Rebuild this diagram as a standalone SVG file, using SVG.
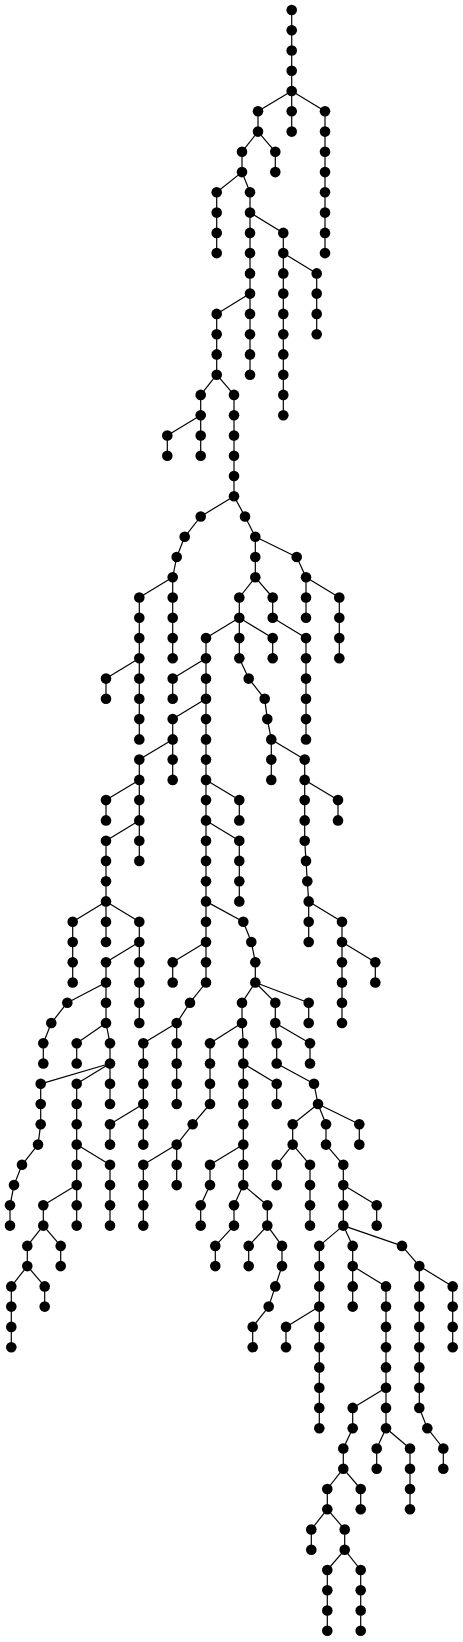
<svg xmlns="http://www.w3.org/2000/svg" width="463" height="1642" viewBox="0 0 463 1642">
<style>
.e line{stroke:#000;stroke-width:1.2}
.n circle{fill:#000}
</style>
<rect width="463" height="1642" fill="#fff"/>
<g id="edges" class="e">
<line x1="291.7" y1="10" x2="291.7" y2="30.3"/><line x1="291.7" y1="30.3" x2="291.7" y2="50.5"/><line x1="291.7" y1="50.5" x2="291.7" y2="70.8"/><line x1="291.7" y1="70.8" x2="291.7" y2="91"/>
<line x1="291.7" y1="91" x2="258" y2="111.3"/><line x1="291.7" y1="91" x2="291.7" y2="111.3"/><line x1="291.7" y1="91" x2="325" y2="111.3"/>
<line x1="258" y1="111.3" x2="258" y2="131.6"/><line x1="291.7" y1="111.3" x2="291.7" y2="131.6"/><line x1="325" y1="111.3" x2="325" y2="131.6"/>
<line x1="258" y1="131.6" x2="242" y2="151.8"/><line x1="258" y1="131.6" x2="275.3" y2="151.8"/><line x1="325" y1="131.6" x2="325" y2="151.8"/>
<line x1="242" y1="151.8" x2="242" y2="172.1"/><line x1="275.3" y1="151.8" x2="275.3" y2="172.1"/><line x1="325" y1="151.8" x2="325" y2="172.1"/>
<line x1="242" y1="172.1" x2="216.7" y2="192.3"/><line x1="242" y1="172.1" x2="250" y2="192.3"/><line x1="325" y1="172.1" x2="325" y2="192.3"/>
<line x1="216.7" y1="192.3" x2="216.7" y2="212.6"/><line x1="250" y1="192.3" x2="250" y2="212.6"/><line x1="325" y1="192.3" x2="325" y2="212.6"/>
<line x1="216.7" y1="212.6" x2="216.7" y2="232.9"/><line x1="250" y1="212.6" x2="250" y2="232.9"/><line x1="250" y1="212.6" x2="283.3" y2="232.9"/><line x1="325" y1="212.6" x2="325" y2="232.9"/>
<line x1="216.7" y1="232.9" x2="216.7" y2="253.1"/><line x1="250" y1="232.9" x2="250" y2="253.1"/><line x1="283.3" y1="232.9" x2="283.3" y2="253.1"/><line x1="325" y1="232.9" x2="325" y2="253.1"/>
<line x1="250" y1="253.1" x2="250" y2="273.4"/><line x1="283.3" y1="253.1" x2="283.3" y2="273.4"/><line x1="283.3" y1="253.1" x2="316.7" y2="273.4"/>
<line x1="250" y1="273.4" x2="250" y2="293.6"/><line x1="283.3" y1="273.4" x2="283.3" y2="293.6"/><line x1="316.7" y1="273.4" x2="316.7" y2="293.6"/>
<line x1="250" y1="293.6" x2="216.7" y2="313.9"/><line x1="250" y1="293.6" x2="250" y2="313.9"/><line x1="283.3" y1="293.6" x2="283.3" y2="313.9"/><line x1="316.7" y1="293.6" x2="316.7" y2="313.9"/>
<line x1="216.7" y1="313.9" x2="216.7" y2="334.2"/><line x1="250" y1="313.9" x2="250" y2="334.2"/><line x1="283.3" y1="313.9" x2="283.3" y2="334.2"/><line x1="316.7" y1="313.9" x2="316.7" y2="334.2"/>
<line x1="216.7" y1="334.2" x2="216.7" y2="354.4"/><line x1="250" y1="334.2" x2="250" y2="354.4"/><line x1="283.3" y1="334.2" x2="283.3" y2="354.4"/>
<line x1="216.7" y1="354.4" x2="216.7" y2="374.7"/><line x1="250" y1="354.4" x2="250" y2="374.7"/><line x1="283.3" y1="354.4" x2="283.3" y2="374.7"/>
<line x1="216.7" y1="374.7" x2="200.7" y2="394.9"/><line x1="216.7" y1="374.7" x2="234" y2="394.9"/><line x1="283.3" y1="374.7" x2="283.3" y2="394.9"/>
<line x1="200.7" y1="394.9" x2="200.7" y2="415.2"/><line x1="234" y1="394.9" x2="234" y2="415.2"/><line x1="283.3" y1="394.9" x2="283.3" y2="415.2"/>
<line x1="200.7" y1="415.2" x2="167.3" y2="435.5"/><line x1="200.7" y1="415.2" x2="200.7" y2="435.5"/><line x1="234" y1="415.2" x2="234" y2="435.5"/>
<line x1="167.3" y1="435.5" x2="167.3" y2="455.7"/><line x1="200.7" y1="435.5" x2="200.7" y2="455.7"/><line x1="234" y1="435.5" x2="234" y2="455.7"/>
<line x1="234" y1="455.7" x2="234" y2="476"/><line x1="234" y1="476" x2="234" y2="496.2"/>
<line x1="234" y1="496.2" x2="200.7" y2="516.5"/><line x1="234" y1="496.2" x2="245" y2="516.5"/>
<line x1="200.7" y1="516.5" x2="184.7" y2="536.8"/><line x1="245" y1="516.5" x2="255.3" y2="536.8"/>
<line x1="184.7" y1="536.8" x2="176.7" y2="557"/><line x1="255.3" y1="536.8" x2="255.3" y2="557"/><line x1="255.3" y1="536.8" x2="296.7" y2="557"/>
<line x1="176.7" y1="557" x2="172.7" y2="577.3"/><line x1="255.3" y1="557" x2="255.3" y2="577.3"/><line x1="296.7" y1="557" x2="306" y2="577.3"/>
<line x1="172.7" y1="577.3" x2="139.3" y2="597.5"/><line x1="172.7" y1="577.3" x2="172.7" y2="597.5"/><line x1="255.3" y1="577.3" x2="239.3" y2="597.5"/><line x1="255.3" y1="577.3" x2="272.7" y2="597.5"/><line x1="306" y1="577.3" x2="306" y2="597.5"/><line x1="306" y1="577.3" x2="339.3" y2="597.5"/>
<line x1="139.3" y1="597.5" x2="139.3" y2="617.8"/><line x1="172.7" y1="597.5" x2="172.7" y2="617.8"/><line x1="239.3" y1="597.5" x2="239.3" y2="617.8"/><line x1="272.7" y1="597.5" x2="272.7" y2="617.8"/><line x1="306" y1="597.5" x2="306" y2="617.8"/><line x1="339.3" y1="597.5" x2="339.3" y2="617.8"/>
<line x1="139.3" y1="617.8" x2="139.3" y2="638.1"/><line x1="172.7" y1="617.8" x2="172.7" y2="638.1"/><line x1="239.3" y1="617.8" x2="206" y2="638.1"/><line x1="239.3" y1="617.8" x2="239.3" y2="638.1"/><line x1="239.3" y1="617.8" x2="272.7" y2="638.1"/><line x1="272.7" y1="617.8" x2="306" y2="638.1"/><line x1="339.3" y1="617.8" x2="339.3" y2="638.1"/>
<line x1="139.3" y1="638.1" x2="139.3" y2="658.3"/><line x1="172.7" y1="638.1" x2="172.7" y2="658.3"/><line x1="206" y1="638.1" x2="206" y2="658.3"/><line x1="239.3" y1="638.1" x2="239.3" y2="658.3"/><line x1="272.7" y1="638.1" x2="272.7" y2="658.3"/><line x1="306" y1="638.1" x2="306" y2="658.3"/><line x1="339.3" y1="638.1" x2="339.3" y2="658.3"/>
<line x1="139.3" y1="658.3" x2="106" y2="678.6"/><line x1="139.3" y1="658.3" x2="139.3" y2="678.6"/><line x1="206" y1="658.3" x2="172.7" y2="678.6"/><line x1="206" y1="658.3" x2="206" y2="678.6"/><line x1="239.3" y1="658.3" x2="248.7" y2="678.6"/><line x1="306" y1="658.3" x2="306" y2="678.6"/>
<line x1="106" y1="678.6" x2="106" y2="698.8"/><line x1="139.3" y1="678.6" x2="139.3" y2="698.8"/><line x1="172.7" y1="678.6" x2="172.7" y2="698.8"/><line x1="206" y1="678.6" x2="206" y2="698.8"/><line x1="248.7" y1="678.6" x2="264.7" y2="698.8"/><line x1="306" y1="678.6" x2="306" y2="698.8"/>
<line x1="139.3" y1="698.8" x2="139.3" y2="719.1"/><line x1="206" y1="698.8" x2="172.7" y2="719.1"/><line x1="206" y1="698.8" x2="206" y2="719.1"/><line x1="264.7" y1="698.8" x2="267.3" y2="719.1"/><line x1="306" y1="698.8" x2="306" y2="719.1"/>
<line x1="139.3" y1="719.1" x2="139.3" y2="739.4"/><line x1="172.7" y1="719.1" x2="172.7" y2="739.4"/><line x1="206" y1="719.1" x2="206" y2="739.4"/><line x1="267.3" y1="719.1" x2="271.3" y2="739.4"/><line x1="306" y1="719.1" x2="306" y2="739.4"/>
<line x1="172.7" y1="739.4" x2="139.3" y2="759.6"/><line x1="172.7" y1="739.4" x2="172.7" y2="759.6"/><line x1="206" y1="739.4" x2="206" y2="759.6"/><line x1="271.3" y1="739.4" x2="271.3" y2="759.6"/><line x1="271.3" y1="739.4" x2="304.7" y2="759.6"/>
<line x1="139.3" y1="759.6" x2="139.3" y2="779.9"/><line x1="172.7" y1="759.6" x2="172.7" y2="779.9"/><line x1="206" y1="759.6" x2="206" y2="779.9"/><line x1="271.3" y1="759.6" x2="271.3" y2="779.9"/><line x1="304.7" y1="759.6" x2="304.7" y2="779.9"/>
<line x1="139.3" y1="779.9" x2="106" y2="800.1"/><line x1="139.3" y1="779.9" x2="139.3" y2="800.1"/><line x1="206" y1="779.9" x2="206" y2="800.1"/><line x1="206" y1="779.9" x2="239.3" y2="800.1"/><line x1="304.7" y1="779.9" x2="304.7" y2="800.1"/><line x1="304.7" y1="779.9" x2="338" y2="800.1"/>
<line x1="106" y1="800.1" x2="106" y2="820.4"/><line x1="139.3" y1="800.1" x2="139.3" y2="820.4"/><line x1="206" y1="800.1" x2="206" y2="820.4"/><line x1="239.3" y1="800.1" x2="239.3" y2="820.4"/><line x1="304.7" y1="800.1" x2="304.7" y2="820.4"/><line x1="338" y1="800.1" x2="338" y2="820.4"/>
<line x1="139.3" y1="820.4" x2="106" y2="840.7"/><line x1="139.3" y1="820.4" x2="139.3" y2="840.7"/><line x1="206" y1="820.4" x2="206" y2="840.7"/><line x1="206" y1="820.4" x2="239.3" y2="840.7"/><line x1="304.7" y1="820.4" x2="304.7" y2="840.7"/>
<line x1="106" y1="840.7" x2="106" y2="860.9"/><line x1="139.3" y1="840.7" x2="139.3" y2="860.9"/><line x1="206" y1="840.7" x2="206" y2="860.9"/><line x1="239.3" y1="840.7" x2="239.3" y2="860.9"/><line x1="304.7" y1="840.7" x2="306" y2="860.9"/>
<line x1="106" y1="860.9" x2="106" y2="881.2"/><line x1="206" y1="860.9" x2="206" y2="881.2"/><line x1="239.3" y1="860.9" x2="239.3" y2="881.2"/><line x1="306" y1="860.9" x2="307.3" y2="881.2"/>
<line x1="106" y1="881.2" x2="106" y2="901.4"/><line x1="206" y1="881.2" x2="206" y2="901.4"/><line x1="239.3" y1="881.2" x2="239.3" y2="901.4"/><line x1="307.3" y1="881.2" x2="308.7" y2="901.4"/>
<line x1="106" y1="901.4" x2="72.7" y2="921.7"/><line x1="106" y1="901.4" x2="106" y2="921.7"/><line x1="106" y1="901.4" x2="139.3" y2="921.7"/><line x1="206" y1="901.4" x2="206" y2="921.7"/><line x1="206" y1="901.4" x2="243.3" y2="921.7"/><line x1="308.7" y1="901.4" x2="308.7" y2="921.7"/><line x1="308.7" y1="901.4" x2="342" y2="921.7"/>
<line x1="72.7" y1="921.7" x2="72.7" y2="942"/><line x1="106" y1="921.7" x2="106" y2="942"/><line x1="139.3" y1="921.7" x2="139.3" y2="942"/><line x1="206" y1="921.7" x2="206" y2="942"/><line x1="243.3" y1="921.7" x2="251.3" y2="942"/><line x1="308.7" y1="921.7" x2="308.7" y2="942"/><line x1="342" y1="921.7" x2="342" y2="942"/>
<line x1="72.7" y1="942" x2="72.7" y2="962.2"/><line x1="139.3" y1="942" x2="106" y2="962.2"/><line x1="139.3" y1="942" x2="139.3" y2="962.2"/><line x1="206" y1="942" x2="172.7" y2="962.2"/><line x1="206" y1="942" x2="206" y2="962.2"/><line x1="251.3" y1="942" x2="255.3" y2="962.2"/><line x1="342" y1="942" x2="342" y2="962.2"/><line x1="342" y1="942" x2="375.3" y2="962.2"/>
<line x1="72.7" y1="962.2" x2="72.7" y2="982.5"/><line x1="106" y1="962.2" x2="106" y2="982.5"/><line x1="139.3" y1="962.2" x2="139.3" y2="982.5"/><line x1="172.7" y1="962.2" x2="172.7" y2="982.5"/><line x1="206" y1="962.2" x2="206" y2="982.5"/><line x1="255.3" y1="962.2" x2="255.3" y2="982.5"/><line x1="342" y1="962.2" x2="342" y2="982.5"/><line x1="375.3" y1="962.2" x2="375.3" y2="982.5"/>
<line x1="106" y1="982.5" x2="67.3" y2="1002.7"/><line x1="106" y1="982.5" x2="106" y2="1002.7"/><line x1="139.3" y1="982.5" x2="139.3" y2="1002.7"/><line x1="206" y1="982.5" x2="190" y2="1002.7"/><line x1="255.3" y1="982.5" x2="242" y2="1002.7"/><line x1="255.3" y1="982.5" x2="275.3" y2="1002.7"/><line x1="255.3" y1="982.5" x2="308.7" y2="1002.7"/><line x1="342" y1="982.5" x2="342" y2="1002.7"/>
<line x1="67.3" y1="1002.7" x2="51.3" y2="1023"/><line x1="106" y1="1002.7" x2="106" y2="1023"/><line x1="139.3" y1="1002.7" x2="139.3" y2="1023"/><line x1="190" y1="1002.7" x2="176.7" y2="1023"/><line x1="242" y1="1002.7" x2="242" y2="1023"/><line x1="275.3" y1="1002.7" x2="275.3" y2="1023"/><line x1="308.7" y1="1002.7" x2="308.7" y2="1023"/><line x1="342" y1="1002.7" x2="342" y2="1023"/>
<line x1="51.3" y1="1023" x2="43.3" y2="1043.3"/><line x1="106" y1="1023" x2="76.7" y2="1043.3"/><line x1="106" y1="1023" x2="110" y2="1043.3"/><line x1="176.7" y1="1023" x2="143.3" y2="1043.3"/><line x1="176.7" y1="1023" x2="176.7" y2="1043.3"/><line x1="242" y1="1023" x2="210" y2="1043.3"/><line x1="242" y1="1023" x2="243.3" y2="1043.3"/><line x1="275.3" y1="1023" x2="276.7" y2="1043.3"/><line x1="275.3" y1="1023" x2="310" y2="1043.3"/>
<line x1="43.3" y1="1043.3" x2="43.3" y2="1063.5"/><line x1="76.7" y1="1043.3" x2="76.7" y2="1063.5"/><line x1="110" y1="1043.3" x2="110" y2="1063.5"/><line x1="143.3" y1="1043.3" x2="143.3" y2="1063.5"/><line x1="176.7" y1="1043.3" x2="176.7" y2="1063.5"/><line x1="210" y1="1043.3" x2="210" y2="1063.5"/><line x1="243.3" y1="1043.3" x2="243.3" y2="1063.5"/><line x1="276.7" y1="1043.3" x2="276.7" y2="1063.5"/><line x1="310" y1="1043.3" x2="310" y2="1063.5"/>
<line x1="110" y1="1063.5" x2="40.7" y2="1083.8"/><line x1="110" y1="1063.5" x2="76.7" y2="1083.8"/><line x1="110" y1="1063.5" x2="110" y2="1083.8"/><line x1="143.3" y1="1063.5" x2="143.3" y2="1083.8"/><line x1="176.7" y1="1063.5" x2="176.7" y2="1083.8"/><line x1="210" y1="1063.5" x2="210" y2="1083.8"/><line x1="243.3" y1="1063.5" x2="243.3" y2="1083.8"/><line x1="243.3" y1="1063.5" x2="276.7" y2="1083.8"/><line x1="276.7" y1="1063.5" x2="314" y2="1083.8"/>
<line x1="40.7" y1="1083.8" x2="40.7" y2="1104"/><line x1="76.7" y1="1083.8" x2="76.7" y2="1104"/><line x1="110" y1="1083.8" x2="110" y2="1104"/><line x1="143.3" y1="1083.8" x2="143.3" y2="1104"/><line x1="176.7" y1="1083.8" x2="176.7" y2="1104"/><line x1="210" y1="1083.8" x2="210" y2="1104"/><line x1="243.3" y1="1083.8" x2="243.3" y2="1104"/><line x1="276.7" y1="1083.8" x2="276.7" y2="1104"/><line x1="314" y1="1083.8" x2="318" y2="1104"/>
<line x1="40.7" y1="1104" x2="40.7" y2="1124.3"/><line x1="76.7" y1="1104" x2="76.7" y2="1124.3"/><line x1="143.3" y1="1104" x2="110" y2="1124.3"/><line x1="143.3" y1="1104" x2="143.3" y2="1124.3"/><line x1="210" y1="1104" x2="192.7" y2="1124.3"/><line x1="243.3" y1="1104" x2="243.3" y2="1124.3"/><line x1="318" y1="1104" x2="292.7" y2="1124.3"/><line x1="318" y1="1104" x2="326" y2="1124.3"/><line x1="318" y1="1104" x2="359.3" y2="1124.3"/>
<line x1="40.7" y1="1124.3" x2="38" y2="1144.6"/><line x1="76.7" y1="1124.3" x2="76.7" y2="1144.6"/><line x1="110" y1="1124.3" x2="110" y2="1144.6"/><line x1="143.3" y1="1124.3" x2="143.3" y2="1144.6"/><line x1="192.7" y1="1124.3" x2="176.7" y2="1144.6"/><line x1="243.3" y1="1124.3" x2="243.3" y2="1144.6"/><line x1="292.7" y1="1124.3" x2="292.7" y2="1144.6"/><line x1="326" y1="1124.3" x2="326" y2="1144.6"/><line x1="359.3" y1="1124.3" x2="359.3" y2="1144.6"/>
<line x1="38" y1="1144.6" x2="22" y2="1164.8"/><line x1="76.7" y1="1144.6" x2="76.7" y2="1164.8"/><line x1="76.7" y1="1144.6" x2="110" y2="1164.8"/><line x1="176.7" y1="1144.6" x2="143.3" y2="1164.8"/><line x1="176.7" y1="1144.6" x2="176.7" y2="1164.8"/><line x1="243.3" y1="1144.6" x2="210" y2="1164.8"/><line x1="243.3" y1="1144.6" x2="243.3" y2="1164.8"/><line x1="292.7" y1="1144.6" x2="276.7" y2="1164.8"/><line x1="292.7" y1="1144.6" x2="310" y2="1164.8"/><line x1="326" y1="1144.6" x2="343.3" y2="1164.8"/>
<line x1="22" y1="1164.8" x2="14" y2="1185.1"/><line x1="76.7" y1="1164.8" x2="76.7" y2="1185.1"/><line x1="110" y1="1164.8" x2="110" y2="1185.1"/><line x1="143.3" y1="1164.8" x2="143.3" y2="1185.1"/><line x1="176.7" y1="1164.8" x2="176.7" y2="1185.1"/><line x1="210" y1="1164.8" x2="210" y2="1185.1"/><line x1="243.3" y1="1164.8" x2="243.3" y2="1185.1"/><line x1="276.7" y1="1164.8" x2="276.7" y2="1185.1"/><line x1="310" y1="1164.8" x2="310" y2="1185.1"/><line x1="343.3" y1="1164.8" x2="343.3" y2="1185.1"/>
<line x1="14" y1="1185.1" x2="10" y2="1205.3"/><line x1="76.7" y1="1185.1" x2="43.3" y2="1205.3"/><line x1="76.7" y1="1185.1" x2="76.7" y2="1205.3"/><line x1="110" y1="1185.1" x2="110" y2="1205.3"/><line x1="143.3" y1="1185.1" x2="143.3" y2="1205.3"/><line x1="210" y1="1185.1" x2="200.7" y2="1205.3"/><line x1="243.3" y1="1185.1" x2="234" y2="1205.3"/><line x1="243.3" y1="1185.1" x2="267.3" y2="1205.3"/><line x1="310" y1="1185.1" x2="310" y2="1205.3"/><line x1="343.3" y1="1185.1" x2="343.3" y2="1205.3"/><line x1="343.3" y1="1185.1" x2="376.7" y2="1205.3"/>
<line x1="10" y1="1205.3" x2="10" y2="1225.6"/><line x1="43.3" y1="1205.3" x2="43.3" y2="1225.6"/><line x1="76.7" y1="1205.3" x2="76.7" y2="1225.6"/><line x1="110" y1="1205.3" x2="110" y2="1225.6"/><line x1="143.3" y1="1205.3" x2="143.3" y2="1225.6"/><line x1="200.7" y1="1205.3" x2="200.7" y2="1225.6"/><line x1="234" y1="1205.3" x2="234" y2="1225.6"/><line x1="267.3" y1="1205.3" x2="267.3" y2="1225.6"/><line x1="310" y1="1205.3" x2="310" y2="1225.6"/><line x1="343.3" y1="1205.3" x2="343.3" y2="1225.6"/><line x1="376.7" y1="1205.3" x2="376.7" y2="1225.6"/>
<line x1="43.3" y1="1225.6" x2="27.3" y2="1245.9"/><line x1="43.3" y1="1225.6" x2="60.7" y2="1245.9"/><line x1="234" y1="1225.6" x2="215.3" y2="1245.9"/><line x1="267.3" y1="1225.6" x2="248.7" y2="1245.9"/><line x1="267.3" y1="1225.6" x2="282" y2="1245.9"/><line x1="343.3" y1="1225.6" x2="319.3" y2="1245.9"/><line x1="343.3" y1="1225.6" x2="352.7" y2="1245.9"/><line x1="343.3" y1="1225.6" x2="402" y2="1245.9"/>
<line x1="27.3" y1="1245.9" x2="27.3" y2="1266.1"/><line x1="60.7" y1="1245.9" x2="60.7" y2="1266.1"/><line x1="215.3" y1="1245.9" x2="215.3" y2="1266.1"/><line x1="248.7" y1="1245.9" x2="248.7" y2="1266.1"/><line x1="282" y1="1245.9" x2="282" y2="1266.1"/><line x1="319.3" y1="1245.9" x2="319.3" y2="1266.1"/><line x1="352.7" y1="1245.9" x2="352.7" y2="1266.1"/><line x1="402" y1="1245.9" x2="419.3" y2="1266.1"/>
<line x1="27.3" y1="1266.1" x2="11.3" y2="1286.4"/><line x1="27.3" y1="1266.1" x2="44.7" y2="1286.4"/><line x1="282" y1="1266.1" x2="275.3" y2="1286.4"/><line x1="319.3" y1="1266.1" x2="319.3" y2="1286.4"/><line x1="352.7" y1="1266.1" x2="352.7" y2="1286.4"/><line x1="352.7" y1="1266.1" x2="386" y2="1286.4"/><line x1="419.3" y1="1266.1" x2="419.3" y2="1286.4"/><line x1="419.3" y1="1266.1" x2="452.7" y2="1286.4"/>
<line x1="11.3" y1="1286.4" x2="11.3" y2="1306.6"/><line x1="44.7" y1="1286.4" x2="44.7" y2="1306.6"/><line x1="275.3" y1="1286.4" x2="268.7" y2="1306.6"/><line x1="319.3" y1="1286.4" x2="319.3" y2="1306.6"/><line x1="352.7" y1="1286.4" x2="352.7" y2="1306.6"/><line x1="386" y1="1286.4" x2="386" y2="1306.6"/><line x1="419.3" y1="1286.4" x2="419.3" y2="1306.6"/><line x1="452.7" y1="1286.4" x2="452.7" y2="1306.6"/>
<line x1="11.3" y1="1306.6" x2="11.3" y2="1326.9"/><line x1="268.7" y1="1306.6" x2="252.7" y2="1326.9"/><line x1="319.3" y1="1306.6" x2="286" y2="1326.9"/><line x1="319.3" y1="1306.6" x2="319.3" y2="1326.9"/><line x1="386" y1="1306.6" x2="386" y2="1326.9"/><line x1="419.3" y1="1306.6" x2="419.3" y2="1326.9"/><line x1="452.7" y1="1306.6" x2="452.7" y2="1326.9"/>
<line x1="11.3" y1="1326.9" x2="11.3" y2="1347.2"/><line x1="252.7" y1="1326.9" x2="252.7" y2="1347.2"/><line x1="286" y1="1326.9" x2="286" y2="1347.2"/><line x1="319.3" y1="1326.9" x2="319.3" y2="1347.2"/><line x1="386" y1="1326.9" x2="386" y2="1347.2"/><line x1="419.3" y1="1326.9" x2="419.3" y2="1347.2"/><line x1="452.7" y1="1326.9" x2="452.7" y2="1347.2"/>
<line x1="319.3" y1="1347.2" x2="319.3" y2="1367.4"/><line x1="386" y1="1347.2" x2="386" y2="1367.4"/><line x1="419.3" y1="1347.2" x2="419.3" y2="1367.4"/>
<line x1="319.3" y1="1367.4" x2="319.3" y2="1387.7"/><line x1="386" y1="1367.4" x2="386" y2="1387.7"/><line x1="419.3" y1="1367.4" x2="419.3" y2="1387.7"/>
<line x1="319.3" y1="1387.7" x2="319.3" y2="1407.9"/><line x1="386" y1="1387.7" x2="352.7" y2="1407.9"/><line x1="386" y1="1387.7" x2="386" y2="1407.9"/><line x1="419.3" y1="1387.7" x2="419.3" y2="1407.9"/>
<line x1="319.3" y1="1407.9" x2="319.3" y2="1428.2"/><line x1="352.7" y1="1407.9" x2="352.7" y2="1428.2"/><line x1="386" y1="1407.9" x2="386" y2="1428.2"/><line x1="419.3" y1="1407.9" x2="427.3" y2="1428.2"/>
<line x1="352.7" y1="1428.2" x2="343.3" y2="1448.5"/><line x1="386" y1="1428.2" x2="376.7" y2="1448.5"/><line x1="386" y1="1428.2" x2="410" y2="1448.5"/><line x1="427.3" y1="1428.2" x2="443.3" y2="1448.5"/>
<line x1="343.3" y1="1448.5" x2="343.3" y2="1468.7"/><line x1="376.7" y1="1448.5" x2="376.7" y2="1468.7"/><line x1="410" y1="1448.5" x2="410" y2="1468.7"/><line x1="443.3" y1="1448.5" x2="443.3" y2="1468.7"/>
<line x1="343.3" y1="1468.7" x2="327.3" y2="1489"/><line x1="343.3" y1="1468.7" x2="360.7" y2="1489"/><line x1="410" y1="1468.7" x2="410" y2="1489"/>
<line x1="327.3" y1="1489" x2="327.3" y2="1509.2"/><line x1="360.7" y1="1489" x2="360.7" y2="1509.2"/><line x1="410" y1="1489" x2="410" y2="1509.2"/>
<line x1="327.3" y1="1509.2" x2="311.3" y2="1529.5"/><line x1="327.3" y1="1509.2" x2="344.7" y2="1529.5"/>
<line x1="311.3" y1="1529.5" x2="311.3" y2="1549.8"/><line x1="344.7" y1="1529.5" x2="344.7" y2="1549.8"/>
<line x1="344.7" y1="1549.8" x2="327.3" y2="1570"/><line x1="344.7" y1="1549.8" x2="360.7" y2="1570"/>
<line x1="327.3" y1="1570" x2="327.3" y2="1590.3"/><line x1="360.7" y1="1570" x2="360.7" y2="1590.3"/>
<line x1="327.3" y1="1590.3" x2="327.3" y2="1610.5"/><line x1="360.7" y1="1590.3" x2="360.7" y2="1610.5"/>
<line x1="327.3" y1="1610.5" x2="327.3" y2="1630.8"/><line x1="360.7" y1="1610.5" x2="360.7" y2="1630.8"/>
</g>
<g id="nodes" class="n">
<g id="n0a"><circle cx="291.7" cy="10" r="5.3"/></g>
<g id="n1a"><circle cx="291.7" cy="30.3" r="5.3"/></g>
<g id="n2a"><circle cx="291.7" cy="50.5" r="5.3"/></g>
<g id="n3a"><circle cx="291.7" cy="70.8" r="5.3"/></g>
<g id="n4a"><circle cx="291.7" cy="91" r="5.3"/></g>
<g id="n5a"><circle cx="258" cy="111.3" r="5.3"/></g><g id="n5b"><circle cx="291.7" cy="111.3" r="5.3"/></g><g id="n5c"><circle cx="325" cy="111.3" r="5.3"/></g>
<g id="n6a"><circle cx="258" cy="131.6" r="5.3"/></g><g id="n6b"><circle cx="291.7" cy="131.6" r="5.3"/></g><g id="n6c"><circle cx="325" cy="131.6" r="5.3"/></g>
<g id="n7a"><circle cx="242" cy="151.8" r="5.3"/></g><g id="n7b"><circle cx="275.3" cy="151.8" r="5.3"/></g><g id="n7c"><circle cx="325" cy="151.8" r="5.3"/></g>
<g id="n8a"><circle cx="242" cy="172.1" r="5.3"/></g><g id="n8b"><circle cx="275.3" cy="172.1" r="5.3"/></g><g id="n8c"><circle cx="325" cy="172.1" r="5.3"/></g>
<g id="n9a"><circle cx="216.7" cy="192.3" r="5.3"/></g><g id="n9b"><circle cx="250" cy="192.3" r="5.3"/></g><g id="n9c"><circle cx="325" cy="192.3" r="5.3"/></g>
<g id="n10a"><circle cx="216.7" cy="212.6" r="5.3"/></g><g id="n10b"><circle cx="250" cy="212.6" r="5.3"/></g><g id="n10c"><circle cx="325" cy="212.6" r="5.3"/></g>
<g id="n11a"><circle cx="216.7" cy="232.9" r="5.3"/></g><g id="n11b"><circle cx="250" cy="232.9" r="5.3"/></g><g id="n11c"><circle cx="283.3" cy="232.9" r="5.3"/></g><g id="n11d"><circle cx="325" cy="232.9" r="5.3"/></g>
<g id="n12a"><circle cx="216.7" cy="253.1" r="5.3"/></g><g id="n12b"><circle cx="250" cy="253.1" r="5.3"/></g><g id="n12c"><circle cx="283.3" cy="253.1" r="5.3"/></g><g id="n12d"><circle cx="325" cy="253.1" r="5.3"/></g>
<g id="n13a"><circle cx="250" cy="273.4" r="5.3"/></g><g id="n13b"><circle cx="283.3" cy="273.4" r="5.3"/></g><g id="n13c"><circle cx="316.7" cy="273.4" r="5.3"/></g>
<g id="n14a"><circle cx="250" cy="293.6" r="5.3"/></g><g id="n14b"><circle cx="283.3" cy="293.6" r="5.3"/></g><g id="n14c"><circle cx="316.7" cy="293.6" r="5.3"/></g>
<g id="n15a"><circle cx="216.7" cy="313.9" r="5.3"/></g><g id="n15b"><circle cx="250" cy="313.9" r="5.3"/></g><g id="n15c"><circle cx="283.3" cy="313.9" r="5.3"/></g><g id="n15d"><circle cx="316.7" cy="313.9" r="5.3"/></g>
<g id="n16a"><circle cx="216.7" cy="334.2" r="5.3"/></g><g id="n16b"><circle cx="250" cy="334.2" r="5.3"/></g><g id="n16c"><circle cx="283.3" cy="334.2" r="5.3"/></g><g id="n16d"><circle cx="316.7" cy="334.2" r="5.3"/></g>
<g id="n17a"><circle cx="216.7" cy="354.4" r="5.3"/></g><g id="n17b"><circle cx="250" cy="354.4" r="5.3"/></g><g id="n17c"><circle cx="283.3" cy="354.4" r="5.3"/></g>
<g id="n18a"><circle cx="216.7" cy="374.7" r="5.3"/></g><g id="n18b"><circle cx="250" cy="374.7" r="5.3"/></g><g id="n18c"><circle cx="283.3" cy="374.7" r="5.3"/></g>
<g id="n19a"><circle cx="200.7" cy="394.9" r="5.3"/></g><g id="n19b"><circle cx="234" cy="394.9" r="5.3"/></g><g id="n19c"><circle cx="283.3" cy="394.9" r="5.3"/></g>
<g id="n20a"><circle cx="200.7" cy="415.2" r="5.3"/></g><g id="n20b"><circle cx="234" cy="415.2" r="5.3"/></g><g id="n20c"><circle cx="283.3" cy="415.2" r="5.3"/></g>
<g id="n21a"><circle cx="167.3" cy="435.5" r="5.3"/></g><g id="n21b"><circle cx="200.7" cy="435.5" r="5.3"/></g><g id="n21c"><circle cx="234" cy="435.5" r="5.3"/></g>
<g id="n22a"><circle cx="167.3" cy="455.7" r="5.3"/></g><g id="n22b"><circle cx="200.7" cy="455.7" r="5.3"/></g><g id="n22c"><circle cx="234" cy="455.7" r="5.3"/></g>
<g id="n23a"><circle cx="234" cy="476" r="5.3"/></g>
<g id="n24a"><circle cx="234" cy="496.2" r="5.3"/></g>
<g id="n25a"><circle cx="200.7" cy="516.5" r="5.3"/></g><g id="n25b"><circle cx="245" cy="516.5" r="5.3"/></g>
<g id="n26a"><circle cx="184.7" cy="536.8" r="5.3"/></g><g id="n26b"><circle cx="255.3" cy="536.8" r="5.3"/></g>
<g id="n27a"><circle cx="176.7" cy="557" r="5.3"/></g><g id="n27b"><circle cx="255.3" cy="557" r="5.3"/></g><g id="n27c"><circle cx="296.7" cy="557" r="5.3"/></g>
<g id="n28a"><circle cx="172.7" cy="577.3" r="5.3"/></g><g id="n28b"><circle cx="255.3" cy="577.3" r="5.3"/></g><g id="n28c"><circle cx="306" cy="577.3" r="5.3"/></g>
<g id="n29a"><circle cx="139.3" cy="597.5" r="5.3"/></g><g id="n29b"><circle cx="172.7" cy="597.5" r="5.3"/></g><g id="n29c"><circle cx="239.3" cy="597.5" r="5.3"/></g><g id="n29d"><circle cx="272.7" cy="597.5" r="5.3"/></g><g id="n29e"><circle cx="306" cy="597.5" r="5.3"/></g><g id="n29f"><circle cx="339.3" cy="597.5" r="5.3"/></g>
<g id="n30a"><circle cx="139.3" cy="617.8" r="5.3"/></g><g id="n30b"><circle cx="172.7" cy="617.8" r="5.3"/></g><g id="n30c"><circle cx="239.3" cy="617.8" r="5.3"/></g><g id="n30d"><circle cx="272.7" cy="617.8" r="5.3"/></g><g id="n30e"><circle cx="306" cy="617.8" r="5.3"/></g><g id="n30f"><circle cx="339.3" cy="617.8" r="5.3"/></g>
<g id="n31a"><circle cx="139.3" cy="638.1" r="5.3"/></g><g id="n31b"><circle cx="172.7" cy="638.1" r="5.3"/></g><g id="n31c"><circle cx="206" cy="638.1" r="5.3"/></g><g id="n31d"><circle cx="239.3" cy="638.1" r="5.3"/></g><g id="n31e"><circle cx="272.7" cy="638.1" r="5.3"/></g><g id="n31f"><circle cx="306" cy="638.1" r="5.3"/></g><g id="n31g"><circle cx="339.3" cy="638.1" r="5.3"/></g>
<g id="n32a"><circle cx="139.3" cy="658.3" r="5.3"/></g><g id="n32b"><circle cx="172.7" cy="658.3" r="5.3"/></g><g id="n32c"><circle cx="206" cy="658.3" r="5.3"/></g><g id="n32d"><circle cx="239.3" cy="658.3" r="5.3"/></g><g id="n32e"><circle cx="272.7" cy="658.3" r="5.3"/></g><g id="n32f"><circle cx="306" cy="658.3" r="5.3"/></g><g id="n32g"><circle cx="339.3" cy="658.3" r="5.3"/></g>
<g id="n33a"><circle cx="106" cy="678.6" r="5.3"/></g><g id="n33b"><circle cx="139.3" cy="678.6" r="5.3"/></g><g id="n33c"><circle cx="172.7" cy="678.6" r="5.3"/></g><g id="n33d"><circle cx="206" cy="678.6" r="5.3"/></g><g id="n33e"><circle cx="248.7" cy="678.6" r="5.3"/></g><g id="n33f"><circle cx="306" cy="678.6" r="5.3"/></g>
<g id="n34a"><circle cx="106" cy="698.8" r="5.3"/></g><g id="n34b"><circle cx="139.3" cy="698.8" r="5.3"/></g><g id="n34c"><circle cx="172.7" cy="698.8" r="5.3"/></g><g id="n34d"><circle cx="206" cy="698.8" r="5.3"/></g><g id="n34e"><circle cx="264.7" cy="698.8" r="5.3"/></g><g id="n34f"><circle cx="306" cy="698.8" r="5.3"/></g>
<g id="n35a"><circle cx="139.3" cy="719.1" r="5.3"/></g><g id="n35b"><circle cx="172.7" cy="719.1" r="5.3"/></g><g id="n35c"><circle cx="206" cy="719.1" r="5.3"/></g><g id="n35d"><circle cx="267.3" cy="719.1" r="5.3"/></g><g id="n35e"><circle cx="306" cy="719.1" r="5.3"/></g>
<g id="n36a"><circle cx="139.3" cy="739.4" r="5.3"/></g><g id="n36b"><circle cx="172.7" cy="739.4" r="5.3"/></g><g id="n36c"><circle cx="206" cy="739.4" r="5.3"/></g><g id="n36d"><circle cx="271.3" cy="739.4" r="5.3"/></g><g id="n36e"><circle cx="306" cy="739.4" r="5.3"/></g>
<g id="n37a"><circle cx="139.3" cy="759.6" r="5.3"/></g><g id="n37b"><circle cx="172.7" cy="759.6" r="5.3"/></g><g id="n37c"><circle cx="206" cy="759.6" r="5.3"/></g><g id="n37d"><circle cx="271.3" cy="759.6" r="5.3"/></g><g id="n37e"><circle cx="304.7" cy="759.6" r="5.3"/></g>
<g id="n38a"><circle cx="139.3" cy="779.9" r="5.3"/></g><g id="n38b"><circle cx="172.7" cy="779.9" r="5.3"/></g><g id="n38c"><circle cx="206" cy="779.9" r="5.3"/></g><g id="n38d"><circle cx="271.3" cy="779.9" r="5.3"/></g><g id="n38e"><circle cx="304.7" cy="779.9" r="5.3"/></g>
<g id="n39a"><circle cx="106" cy="800.1" r="5.3"/></g><g id="n39b"><circle cx="139.3" cy="800.1" r="5.3"/></g><g id="n39c"><circle cx="206" cy="800.1" r="5.3"/></g><g id="n39d"><circle cx="239.3" cy="800.1" r="5.3"/></g><g id="n39e"><circle cx="304.7" cy="800.1" r="5.3"/></g><g id="n39f"><circle cx="338" cy="800.1" r="5.3"/></g>
<g id="n40a"><circle cx="106" cy="820.4" r="5.3"/></g><g id="n40b"><circle cx="139.3" cy="820.4" r="5.3"/></g><g id="n40c"><circle cx="206" cy="820.4" r="5.3"/></g><g id="n40d"><circle cx="239.3" cy="820.4" r="5.3"/></g><g id="n40e"><circle cx="304.7" cy="820.4" r="5.3"/></g><g id="n40f"><circle cx="338" cy="820.4" r="5.3"/></g>
<g id="n41a"><circle cx="106" cy="840.7" r="5.3"/></g><g id="n41b"><circle cx="139.3" cy="840.7" r="5.3"/></g><g id="n41c"><circle cx="206" cy="840.7" r="5.3"/></g><g id="n41d"><circle cx="239.3" cy="840.7" r="5.3"/></g><g id="n41e"><circle cx="304.7" cy="840.7" r="5.3"/></g>
<g id="n42a"><circle cx="106" cy="860.9" r="5.3"/></g><g id="n42b"><circle cx="139.3" cy="860.9" r="5.3"/></g><g id="n42c"><circle cx="206" cy="860.9" r="5.3"/></g><g id="n42d"><circle cx="239.3" cy="860.9" r="5.3"/></g><g id="n42e"><circle cx="306" cy="860.9" r="5.3"/></g>
<g id="n43a"><circle cx="106" cy="881.2" r="5.3"/></g><g id="n43b"><circle cx="206" cy="881.2" r="5.3"/></g><g id="n43c"><circle cx="239.3" cy="881.2" r="5.3"/></g><g id="n43d"><circle cx="307.3" cy="881.2" r="5.3"/></g>
<g id="n44a"><circle cx="106" cy="901.4" r="5.3"/></g><g id="n44b"><circle cx="206" cy="901.4" r="5.3"/></g><g id="n44c"><circle cx="239.3" cy="901.4" r="5.3"/></g><g id="n44d"><circle cx="308.7" cy="901.4" r="5.3"/></g>
<g id="n45a"><circle cx="72.7" cy="921.7" r="5.3"/></g><g id="n45b"><circle cx="106" cy="921.7" r="5.3"/></g><g id="n45c"><circle cx="139.3" cy="921.7" r="5.3"/></g><g id="n45d"><circle cx="206" cy="921.7" r="5.3"/></g><g id="n45e"><circle cx="243.3" cy="921.7" r="5.3"/></g><g id="n45f"><circle cx="308.7" cy="921.7" r="5.3"/></g><g id="n45g"><circle cx="342" cy="921.7" r="5.3"/></g>
<g id="n46a"><circle cx="72.7" cy="942" r="5.3"/></g><g id="n46b"><circle cx="106" cy="942" r="5.3"/></g><g id="n46c"><circle cx="139.3" cy="942" r="5.3"/></g><g id="n46d"><circle cx="206" cy="942" r="5.3"/></g><g id="n46e"><circle cx="251.3" cy="942" r="5.3"/></g><g id="n46f"><circle cx="308.7" cy="942" r="5.3"/></g><g id="n46g"><circle cx="342" cy="942" r="5.3"/></g>
<g id="n47a"><circle cx="72.7" cy="962.2" r="5.3"/></g><g id="n47b"><circle cx="106" cy="962.2" r="5.3"/></g><g id="n47c"><circle cx="139.3" cy="962.2" r="5.3"/></g><g id="n47d"><circle cx="172.7" cy="962.2" r="5.3"/></g><g id="n47e"><circle cx="206" cy="962.2" r="5.3"/></g><g id="n47f"><circle cx="255.3" cy="962.2" r="5.3"/></g><g id="n47g"><circle cx="342" cy="962.2" r="5.3"/></g><g id="n47h"><circle cx="375.3" cy="962.2" r="5.3"/></g>
<g id="n48a"><circle cx="72.7" cy="982.5" r="5.3"/></g><g id="n48b"><circle cx="106" cy="982.5" r="5.3"/></g><g id="n48c"><circle cx="139.3" cy="982.5" r="5.3"/></g><g id="n48d"><circle cx="172.7" cy="982.5" r="5.3"/></g><g id="n48e"><circle cx="206" cy="982.5" r="5.3"/></g><g id="n48f"><circle cx="255.3" cy="982.5" r="5.3"/></g><g id="n48g"><circle cx="342" cy="982.5" r="5.3"/></g><g id="n48h"><circle cx="375.3" cy="982.5" r="5.3"/></g>
<g id="n49a"><circle cx="67.3" cy="1002.7" r="5.3"/></g><g id="n49b"><circle cx="106" cy="1002.7" r="5.3"/></g><g id="n49c"><circle cx="139.3" cy="1002.7" r="5.3"/></g><g id="n49d"><circle cx="190" cy="1002.7" r="5.3"/></g><g id="n49e"><circle cx="242" cy="1002.7" r="5.3"/></g><g id="n49f"><circle cx="275.3" cy="1002.7" r="5.3"/></g><g id="n49g"><circle cx="308.7" cy="1002.7" r="5.3"/></g><g id="n49h"><circle cx="342" cy="1002.7" r="5.3"/></g>
<g id="n50a"><circle cx="51.3" cy="1023" r="5.3"/></g><g id="n50b"><circle cx="106" cy="1023" r="5.3"/></g><g id="n50c"><circle cx="139.3" cy="1023" r="5.3"/></g><g id="n50d"><circle cx="176.7" cy="1023" r="5.3"/></g><g id="n50e"><circle cx="242" cy="1023" r="5.3"/></g><g id="n50f"><circle cx="275.3" cy="1023" r="5.3"/></g><g id="n50g"><circle cx="308.7" cy="1023" r="5.3"/></g><g id="n50h"><circle cx="342" cy="1023" r="5.3"/></g>
<g id="n51a"><circle cx="43.3" cy="1043.3" r="5.3"/></g><g id="n51b"><circle cx="76.7" cy="1043.3" r="5.3"/></g><g id="n51c"><circle cx="110" cy="1043.3" r="5.3"/></g><g id="n51d"><circle cx="143.3" cy="1043.3" r="5.3"/></g><g id="n51e"><circle cx="176.7" cy="1043.3" r="5.3"/></g><g id="n51f"><circle cx="210" cy="1043.3" r="5.3"/></g><g id="n51g"><circle cx="243.3" cy="1043.3" r="5.3"/></g><g id="n51h"><circle cx="276.7" cy="1043.3" r="5.3"/></g><g id="n51i"><circle cx="310" cy="1043.3" r="5.3"/></g>
<g id="n52a"><circle cx="43.3" cy="1063.5" r="5.3"/></g><g id="n52b"><circle cx="76.7" cy="1063.5" r="5.3"/></g><g id="n52c"><circle cx="110" cy="1063.5" r="5.3"/></g><g id="n52d"><circle cx="143.3" cy="1063.5" r="5.3"/></g><g id="n52e"><circle cx="176.7" cy="1063.5" r="5.3"/></g><g id="n52f"><circle cx="210" cy="1063.5" r="5.3"/></g><g id="n52g"><circle cx="243.3" cy="1063.5" r="5.3"/></g><g id="n52h"><circle cx="276.7" cy="1063.5" r="5.3"/></g><g id="n52i"><circle cx="310" cy="1063.5" r="5.3"/></g>
<g id="n53a"><circle cx="40.7" cy="1083.8" r="5.3"/></g><g id="n53b"><circle cx="76.7" cy="1083.8" r="5.3"/></g><g id="n53c"><circle cx="110" cy="1083.8" r="5.3"/></g><g id="n53d"><circle cx="143.3" cy="1083.8" r="5.3"/></g><g id="n53e"><circle cx="176.7" cy="1083.8" r="5.3"/></g><g id="n53f"><circle cx="210" cy="1083.8" r="5.3"/></g><g id="n53g"><circle cx="243.3" cy="1083.8" r="5.3"/></g><g id="n53h"><circle cx="276.7" cy="1083.8" r="5.3"/></g><g id="n53i"><circle cx="314" cy="1083.8" r="5.3"/></g>
<g id="n54a"><circle cx="40.7" cy="1104" r="5.3"/></g><g id="n54b"><circle cx="76.7" cy="1104" r="5.3"/></g><g id="n54c"><circle cx="110" cy="1104" r="5.3"/></g><g id="n54d"><circle cx="143.3" cy="1104" r="5.3"/></g><g id="n54e"><circle cx="176.7" cy="1104" r="5.3"/></g><g id="n54f"><circle cx="210" cy="1104" r="5.3"/></g><g id="n54g"><circle cx="243.3" cy="1104" r="5.3"/></g><g id="n54h"><circle cx="276.7" cy="1104" r="5.3"/></g><g id="n54i"><circle cx="318" cy="1104" r="5.3"/></g>
<g id="n55a"><circle cx="40.7" cy="1124.3" r="5.3"/></g><g id="n55b"><circle cx="76.7" cy="1124.3" r="5.3"/></g><g id="n55c"><circle cx="110" cy="1124.3" r="5.3"/></g><g id="n55d"><circle cx="143.3" cy="1124.3" r="5.3"/></g><g id="n55e"><circle cx="192.7" cy="1124.3" r="5.3"/></g><g id="n55f"><circle cx="243.3" cy="1124.3" r="5.3"/></g><g id="n55g"><circle cx="292.7" cy="1124.3" r="5.3"/></g><g id="n55h"><circle cx="326" cy="1124.3" r="5.3"/></g><g id="n55i"><circle cx="359.3" cy="1124.3" r="5.3"/></g>
<g id="n56a"><circle cx="38" cy="1144.6" r="5.3"/></g><g id="n56b"><circle cx="76.7" cy="1144.6" r="5.3"/></g><g id="n56c"><circle cx="110" cy="1144.6" r="5.3"/></g><g id="n56d"><circle cx="143.3" cy="1144.6" r="5.3"/></g><g id="n56e"><circle cx="176.7" cy="1144.6" r="5.3"/></g><g id="n56f"><circle cx="243.3" cy="1144.6" r="5.3"/></g><g id="n56g"><circle cx="292.7" cy="1144.6" r="5.3"/></g><g id="n56h"><circle cx="326" cy="1144.6" r="5.3"/></g><g id="n56i"><circle cx="359.3" cy="1144.6" r="5.3"/></g>
<g id="n57a"><circle cx="22" cy="1164.8" r="5.3"/></g><g id="n57b"><circle cx="76.7" cy="1164.8" r="5.3"/></g><g id="n57c"><circle cx="110" cy="1164.8" r="5.3"/></g><g id="n57d"><circle cx="143.3" cy="1164.8" r="5.3"/></g><g id="n57e"><circle cx="176.7" cy="1164.8" r="5.3"/></g><g id="n57f"><circle cx="210" cy="1164.8" r="5.3"/></g><g id="n57g"><circle cx="243.3" cy="1164.8" r="5.3"/></g><g id="n57h"><circle cx="276.7" cy="1164.8" r="5.3"/></g><g id="n57i"><circle cx="310" cy="1164.8" r="5.3"/></g><g id="n57j"><circle cx="343.3" cy="1164.8" r="5.3"/></g>
<g id="n58a"><circle cx="14" cy="1185.1" r="5.3"/></g><g id="n58b"><circle cx="76.7" cy="1185.1" r="5.3"/></g><g id="n58c"><circle cx="110" cy="1185.1" r="5.3"/></g><g id="n58d"><circle cx="143.3" cy="1185.1" r="5.3"/></g><g id="n58e"><circle cx="176.7" cy="1185.1" r="5.3"/></g><g id="n58f"><circle cx="210" cy="1185.1" r="5.3"/></g><g id="n58g"><circle cx="243.3" cy="1185.1" r="5.3"/></g><g id="n58h"><circle cx="276.7" cy="1185.1" r="5.3"/></g><g id="n58i"><circle cx="310" cy="1185.1" r="5.3"/></g><g id="n58j"><circle cx="343.3" cy="1185.1" r="5.3"/></g>
<g id="n59a"><circle cx="10" cy="1205.3" r="5.3"/></g><g id="n59b"><circle cx="43.3" cy="1205.3" r="5.3"/></g><g id="n59c"><circle cx="76.7" cy="1205.3" r="5.3"/></g><g id="n59d"><circle cx="110" cy="1205.3" r="5.3"/></g><g id="n59e"><circle cx="143.3" cy="1205.3" r="5.3"/></g><g id="n59f"><circle cx="200.7" cy="1205.3" r="5.3"/></g><g id="n59g"><circle cx="234" cy="1205.3" r="5.3"/></g><g id="n59h"><circle cx="267.3" cy="1205.3" r="5.3"/></g><g id="n59i"><circle cx="310" cy="1205.3" r="5.3"/></g><g id="n59j"><circle cx="343.3" cy="1205.3" r="5.3"/></g><g id="n59k"><circle cx="376.7" cy="1205.3" r="5.3"/></g>
<g id="n60a"><circle cx="10" cy="1225.6" r="5.3"/></g><g id="n60b"><circle cx="43.3" cy="1225.6" r="5.3"/></g><g id="n60c"><circle cx="76.7" cy="1225.6" r="5.3"/></g><g id="n60d"><circle cx="110" cy="1225.6" r="5.3"/></g><g id="n60e"><circle cx="143.3" cy="1225.6" r="5.3"/></g><g id="n60f"><circle cx="200.7" cy="1225.6" r="5.3"/></g><g id="n60g"><circle cx="234" cy="1225.6" r="5.3"/></g><g id="n60h"><circle cx="267.3" cy="1225.6" r="5.3"/></g><g id="n60i"><circle cx="310" cy="1225.6" r="5.3"/></g><g id="n60j"><circle cx="343.3" cy="1225.6" r="5.3"/></g><g id="n60k"><circle cx="376.7" cy="1225.6" r="5.3"/></g>
<g id="n61a"><circle cx="27.3" cy="1245.9" r="5.3"/></g><g id="n61b"><circle cx="60.7" cy="1245.9" r="5.3"/></g><g id="n61c"><circle cx="215.3" cy="1245.9" r="5.3"/></g><g id="n61d"><circle cx="248.7" cy="1245.9" r="5.3"/></g><g id="n61e"><circle cx="282" cy="1245.9" r="5.3"/></g><g id="n61f"><circle cx="319.3" cy="1245.9" r="5.3"/></g><g id="n61g"><circle cx="352.7" cy="1245.9" r="5.3"/></g><g id="n61h"><circle cx="402" cy="1245.9" r="5.3"/></g>
<g id="n62a"><circle cx="27.3" cy="1266.1" r="5.3"/></g><g id="n62b"><circle cx="60.7" cy="1266.1" r="5.3"/></g><g id="n62c"><circle cx="215.3" cy="1266.1" r="5.3"/></g><g id="n62d"><circle cx="248.7" cy="1266.1" r="5.3"/></g><g id="n62e"><circle cx="282" cy="1266.1" r="5.3"/></g><g id="n62f"><circle cx="319.3" cy="1266.1" r="5.3"/></g><g id="n62g"><circle cx="352.7" cy="1266.1" r="5.3"/></g><g id="n62h"><circle cx="419.3" cy="1266.1" r="5.3"/></g>
<g id="n63a"><circle cx="11.3" cy="1286.4" r="5.3"/></g><g id="n63b"><circle cx="44.7" cy="1286.4" r="5.3"/></g><g id="n63c"><circle cx="275.3" cy="1286.4" r="5.3"/></g><g id="n63d"><circle cx="319.3" cy="1286.4" r="5.3"/></g><g id="n63e"><circle cx="352.7" cy="1286.4" r="5.3"/></g><g id="n63f"><circle cx="386" cy="1286.4" r="5.3"/></g><g id="n63g"><circle cx="419.3" cy="1286.4" r="5.3"/></g><g id="n63h"><circle cx="452.7" cy="1286.4" r="5.3"/></g>
<g id="n64a"><circle cx="11.3" cy="1306.6" r="5.3"/></g><g id="n64b"><circle cx="44.7" cy="1306.6" r="5.3"/></g><g id="n64c"><circle cx="268.7" cy="1306.6" r="5.3"/></g><g id="n64d"><circle cx="319.3" cy="1306.6" r="5.3"/></g><g id="n64e"><circle cx="352.7" cy="1306.6" r="5.3"/></g><g id="n64f"><circle cx="386" cy="1306.6" r="5.3"/></g><g id="n64g"><circle cx="419.3" cy="1306.6" r="5.3"/></g><g id="n64h"><circle cx="452.7" cy="1306.6" r="5.3"/></g>
<g id="n65a"><circle cx="11.3" cy="1326.9" r="5.3"/></g><g id="n65b"><circle cx="252.7" cy="1326.9" r="5.3"/></g><g id="n65c"><circle cx="286" cy="1326.9" r="5.3"/></g><g id="n65d"><circle cx="319.3" cy="1326.9" r="5.3"/></g><g id="n65e"><circle cx="386" cy="1326.9" r="5.3"/></g><g id="n65f"><circle cx="419.3" cy="1326.9" r="5.3"/></g><g id="n65g"><circle cx="452.7" cy="1326.9" r="5.3"/></g>
<g id="n66a"><circle cx="11.3" cy="1347.2" r="5.3"/></g><g id="n66b"><circle cx="252.7" cy="1347.2" r="5.3"/></g><g id="n66c"><circle cx="286" cy="1347.2" r="5.3"/></g><g id="n66d"><circle cx="319.3" cy="1347.2" r="5.3"/></g><g id="n66e"><circle cx="386" cy="1347.2" r="5.3"/></g><g id="n66f"><circle cx="419.3" cy="1347.2" r="5.3"/></g><g id="n66g"><circle cx="452.7" cy="1347.2" r="5.3"/></g>
<g id="n67a"><circle cx="319.3" cy="1367.4" r="5.3"/></g><g id="n67b"><circle cx="386" cy="1367.4" r="5.3"/></g><g id="n67c"><circle cx="419.3" cy="1367.4" r="5.3"/></g>
<g id="n68a"><circle cx="319.3" cy="1387.7" r="5.3"/></g><g id="n68b"><circle cx="386" cy="1387.7" r="5.3"/></g><g id="n68c"><circle cx="419.3" cy="1387.7" r="5.3"/></g>
<g id="n69a"><circle cx="319.3" cy="1407.9" r="5.3"/></g><g id="n69b"><circle cx="352.7" cy="1407.9" r="5.3"/></g><g id="n69c"><circle cx="386" cy="1407.9" r="5.3"/></g><g id="n69d"><circle cx="419.3" cy="1407.9" r="5.3"/></g>
<g id="n70a"><circle cx="319.3" cy="1428.2" r="5.3"/></g><g id="n70b"><circle cx="352.7" cy="1428.2" r="5.3"/></g><g id="n70c"><circle cx="386" cy="1428.2" r="5.3"/></g><g id="n70d"><circle cx="427.3" cy="1428.2" r="5.3"/></g>
<g id="n71a"><circle cx="343.3" cy="1448.5" r="5.3"/></g><g id="n71b"><circle cx="376.7" cy="1448.5" r="5.3"/></g><g id="n71c"><circle cx="410" cy="1448.5" r="5.3"/></g><g id="n71d"><circle cx="443.3" cy="1448.5" r="5.3"/></g>
<g id="n72a"><circle cx="343.3" cy="1468.7" r="5.3"/></g><g id="n72b"><circle cx="376.7" cy="1468.7" r="5.3"/></g><g id="n72c"><circle cx="410" cy="1468.7" r="5.3"/></g><g id="n72d"><circle cx="443.3" cy="1468.7" r="5.3"/></g>
<g id="n73a"><circle cx="327.3" cy="1489" r="5.3"/></g><g id="n73b"><circle cx="360.7" cy="1489" r="5.3"/></g><g id="n73c"><circle cx="410" cy="1489" r="5.3"/></g>
<g id="n74a"><circle cx="327.3" cy="1509.2" r="5.3"/></g><g id="n74b"><circle cx="360.7" cy="1509.2" r="5.3"/></g><g id="n74c"><circle cx="410" cy="1509.2" r="5.3"/></g>
<g id="n75a"><circle cx="311.3" cy="1529.5" r="5.3"/></g><g id="n75b"><circle cx="344.7" cy="1529.5" r="5.3"/></g>
<g id="n76a"><circle cx="311.3" cy="1549.8" r="5.3"/></g><g id="n76b"><circle cx="344.7" cy="1549.8" r="5.3"/></g>
<g id="n77a"><circle cx="327.3" cy="1570" r="5.3"/></g><g id="n77b"><circle cx="360.7" cy="1570" r="5.3"/></g>
<g id="n78a"><circle cx="327.3" cy="1590.3" r="5.3"/></g><g id="n78b"><circle cx="360.7" cy="1590.3" r="5.3"/></g>
<g id="n79a"><circle cx="327.3" cy="1610.5" r="5.3"/></g><g id="n79b"><circle cx="360.7" cy="1610.5" r="5.3"/></g>
<g id="n80a"><circle cx="327.3" cy="1630.8" r="5.3"/></g><g id="n80b"><circle cx="360.7" cy="1630.8" r="5.3"/></g>
</g>
</svg>
